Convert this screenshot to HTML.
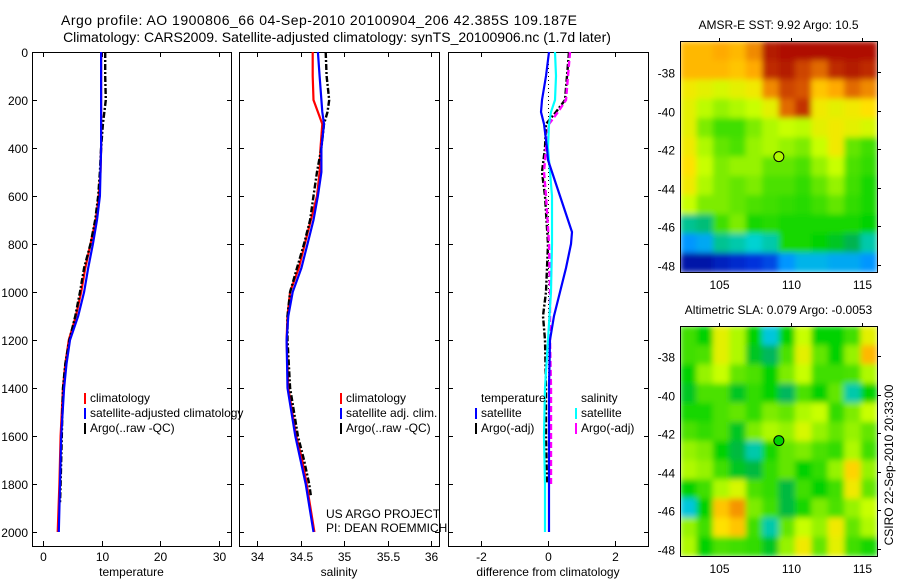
<!DOCTYPE html>
<html><head><meta charset="utf-8"><style>
html,body{margin:0;padding:0;background:#fff;}
svg{display:block;font-family:"Liberation Sans",sans-serif;}
text{fill:#000;}
</style></head><body>
<svg id="fig" width="900" height="580" viewBox="0 0 900 580">
<defs>
<filter id="smooth" x="0" y="0" width="1" height="1" filterUnits="objectBoundingBox"><feGaussianBlur stdDeviation="3" edgeMode="duplicate"/></filter>
</defs>
<text x="319" y="25" font-size="14" text-anchor="middle" textLength="516" lengthAdjust="spacing">Argo profile: AO 1900806_66 04-Sep-2010 20100904_206 42.385S 109.187E</text>
<text x="337" y="42" font-size="14" text-anchor="middle">Climatology: CARS2009. Satellite-adjusted climatology: synTS_20100906.nc (1.7d later)</text>
<g id="plots"></g>
</svg>
<script>
// ---------- data ----------
const depthTicks=[0,200,400,600,800,1000,1200,1400,1600,1800,2000];
const tempTicks=[0,10,20,30];
const salTicks=[34,34.5,35,35.5,36];
const salTickLabels=["34","34.5","35","35.5","36"];
const diffTicks=[-2,0,2];
const lonTicks=[105,110,115];
const latTicks=[-38,-40,-42,-44,-46,-48];

const tempClimDepth=[0,100,200,300,400,500,600,700,800,900,1000,1100,1200,1300,1400,1600,1800,2000];
const tempClim=[9.9,9.9,9.9,9.9,9.9,9.8,9.5,9.0,8.1,7.2,6.5,5.6,4.4,3.8,3.4,3.0,2.8,2.5];
const tempSatDepth=[0,100,200,300,400,500,600,700,800,900,1000,1100,1200,1300,1400,1600,1800,2000];
const tempSat=[9.9,9.9,9.9,9.9,9.9,9.8,9.7,9.2,8.5,7.7,7.0,6.0,4.6,4.0,3.6,3.1,2.9,2.7];
const tempArgoDepth=[0,100,200,300,400,500,600,700,800,900,1000,1100,1200,1300,1400,1600,1800,1880];
const tempArgo=[10.6,10.6,10.7,10.2,9.9,9.7,9.4,8.9,8.1,7.0,6.3,5.5,4.5,3.8,3.4,3.2,3.0,2.9];

const salDepth=[0,100,200,250,300,400,500,600,700,800,900,1000,1100,1200,1400,1600,1700,1800,2000];
const salClim=[34.64,34.64,34.65,34.70,34.75,34.73,34.72,34.69,34.62,34.55,34.48,34.38,34.35,34.34,34.36,34.45,34.52,34.57,34.66];
const salSat=[34.70,34.72,34.74,34.75,34.77,34.74,34.74,34.70,34.65,34.58,34.51,34.41,34.36,34.34,34.35,34.44,34.50,34.56,34.65];
const salArgoDepth=[0,100,200,250,300,400,500,600,700,800,900,1000,1100,1200,1400,1600,1700,1800,1850];
const salArgo=[34.79,34.80,34.83,34.81,34.77,34.74,34.69,34.65,34.61,34.54,34.46,34.38,34.35,34.35,34.38,34.47,34.54,34.60,34.62];

const dTempSatDepth=[0,100,200,250,300,400,450,500,600,700,750,800,900,1000,1100,1200,1400,1600,1800,2000];
const dTempSat=[0.03,-0.06,-0.18,-0.21,-0.12,-0.03,0,0.12,0.36,0.6,0.72,0.69,0.54,0.36,0.18,0.06,0.03,0.03,0.03,0.03];
const dSalSatDepth=[0,100,200,250,300,400,500,600,800,1000,1200,1400,1600,1800,2000];
const dSalSat=[0.21,0.24,0.21,0.09,0.03,0,0.06,0.12,0.12,0.09,0,-0.09,-0.12,-0.09,-0.09];
const dArgoDepth=[0,100,200,250,300,400,500,600,800,1000,1100,1200,1400,1600,1800];
const dTempArgo=[0.63,0.57,0.51,0.24,-0.06,-0.09,-0.18,-0.09,0,-0.06,-0.15,-0.09,-0.06,-0.06,-0.03];
const dSalArgo=[0.66,0.6,0.54,0.3,0.03,-0.06,-0.12,-0.06,0.03,0.06,0.06,0.06,0.09,0.09,0.09];

// map grids: rows north->south, cols west->east, values = colormap index 0..1
const sstGrid=[
[.80,.80,.82,.80,.85,.97,.98,.98,.98,.98,.98,.98],
[.80,.80,.80,.78,.82,.95,.97,.92,.88,.95,.97,.95],
[.72,.70,.68,.70,.72,.85,.92,.90,.78,.82,.88,.85],
[.70,.65,.62,.64,.66,.70,.88,.94,.72,.70,.72,.74],
[.70,.60,.55,.55,.60,.64,.66,.65,.70,.72,.70,.68],
[.72,.64,.58,.56,.62,.64,.62,.60,.66,.72,.58,.55],
[.74,.66,.60,.62,.62,.58,.58,.56,.62,.66,.56,.54],
[.72,.64,.60,.58,.60,.56,.56,.54,.58,.62,.55,.52],
[.66,.60,.60,.58,.56,.55,.54,.53,.55,.58,.54,.52],
[.40,.42,.55,.60,.52,.53,.52,.52,.52,.52,.52,.50],
[.25,.28,.40,.38,.35,.38,.52,.52,.50,.48,.45,.38],
[.05,.05,.08,.10,.12,.15,.25,.30,.30,.28,.28,.25]];
const slaGrid=[
[.55,.50,.70,.64,.50,.33,.50,.66,.50,.50,.55,.70],
[.55,.56,.70,.64,.48,.44,.56,.70,.58,.50,.62,.80],
[.50,.62,.66,.58,.56,.50,.60,.66,.55,.55,.56,.64],
[.48,.56,.56,.48,.54,.50,.44,.56,.50,.58,.38,.50],
[.52,.52,.56,.58,.54,.60,.58,.64,.66,.54,.60,.66],
[.56,.54,.56,.48,.60,.64,.62,.68,.62,.58,.62,.58],
[.62,.60,.50,.46,.38,.52,.58,.60,.56,.54,.64,.55],
[.64,.62,.55,.48,.46,.54,.58,.50,.54,.62,.76,.62],
[.50,.55,.64,.68,.56,.54,.46,.55,.50,.55,.72,.58],
[.33,.50,.78,.84,.60,.55,.46,.52,.60,.56,.62,.66],
[.62,.55,.74,.78,.55,.38,.58,.66,.62,.72,.58,.64],
[.64,.50,.56,.55,.54,.48,.62,.72,.58,.70,.55,.52]];
const floatLon=109.187, floatLat=-42.385;
const sstFloatVal=0.64, slaFloatVal=0.5;

// ---------- drawing ----------
const NS="http://www.w3.org/2000/svg";
const root=document.getElementById('plots');
function mk(tag,attrs,parent){const e=document.createElementNS(NS,tag);for(const k in attrs)e.setAttribute(k,attrs[k]);(parent||root).appendChild(e);return e;}
function txt(x,y,s,size,anchor,parent){const t=mk('text',{x:x,y:y,'font-size':size,'text-anchor':anchor||'middle'},parent);t.textContent=s;return t;}

const yDepth=d=>52+d*0.24;
function profilePanel(name,x0,x1,xs,ticks,labels,xlabel){
  const g=mk('g',{});
  
  
  const fr=mk('rect',{x:x0+0.5,y:52.5,width:x1-x0,height:494,fill:'none',stroke:'#000','stroke-width':1},g);
  
  
  depthTicks.forEach(d=>{const y=Math.round(yDepth(d))+0.5;
    mk('line',{x1:x0,x2:x0+5,y1:y,y2:y,stroke:'#000'},g);mk('line',{x1:x1-4,x2:x1+1,y1:y,y2:y,stroke:'#000'},g);});
  ticks.forEach((v,i)=>{const x=Math.round(xs(v))+0.5;
    mk('line',{x1:x,x2:x,y1:52,y2:57,stroke:'#000'},g);mk('line',{x1:x,x2:x,y1:541,y2:547,stroke:'#000'},g);
    const t=txt(x,561,labels[i],12,'middle',g);
    
    });
  const xl=txt((x0+x1)/2,576,xlabel,12,'middle',g);
  
  
  return g;
}
function series(g,name,depths,vals,xs,color,dash,w){
  const pts=depths.map((d,i)=>xs(vals[i]).toFixed(1)+','+yDepth(d).toFixed(1)).join(' ');
  const p=mk('polyline',{points:pts,fill:'none',stroke:color,'stroke-width':w||2.2,'stroke-dasharray':dash||'none'},g);
  
  
}
function legend(g,name,x,y,items){
  items.forEach((it,i)=>{const yy=y+i*15;
    if(it.c) mk('rect',{x:x-3,y:yy-9,width:2,height:11,fill:it.c},g);
    const t=txt(x+3,yy,it.t,12,'start',g);
    
    });
}
depthTicks.forEach(d=>{const t=txt(28,yDepth(d)+5,String(d),12,'end');
  
  });

const xT=v=>43+v*5.87;
const g1=profilePanel('temperature-panel',32,231,xT,tempTicks,tempTicks.map(String),'temperature');
series(g1,'temp-climatology-line',tempClimDepth,tempClim,xT,'#f00');
series(g1,'temp-argo-line',tempArgoDepth,tempArgo,xT,'#000','6 2 2 2',2.4);
series(g1,'temp-satellite-line',tempSatDepth,tempSat,xT,'#00f');
legend(g1,'temp-legend',87,402,[{c:'#f00',t:'climatology'},{c:'#00f',t:'satellite-adjusted climatology'},{c:'#000',t:'Argo(..raw -QC)'}]);

const xS=v=>257+(v-34)*87;
const g2=profilePanel('salinity-panel',239,439,xS,salTicks,salTickLabels,'salinity');
series(g2,'sal-climatology-line',salDepth,salClim,xS,'#f00');
series(g2,'sal-argo-line',salArgoDepth,salArgo,xS,'#000','6 2 2 2',2.4);
series(g2,'sal-satellite-line',salDepth,salSat,xS,'#00f');
legend(g2,'sal-legend',343,402,[{c:'#f00',t:'climatology'},{c:'#00f',t:'satellite adj. clim.'},{c:'#000',t:'Argo(..raw -QC)'}]);
const us=txt(326,518,'US ARGO PROJECT',12,'start',g2);
const pi=txt(326,532,'PI: DEAN ROEMMICH',12,'start',g2);

const xD=v=>548+v*33.3;
const g3=profilePanel('difference-panel',448,648,xD,diffTicks,diffTicks.map(String),'difference from climatology');
const zl=mk('line',{x1:548.5,x2:548.5,y1:52,y2:532,stroke:'#000','stroke-dasharray':'1 3'},g3);

series(g3,'diff-temp-argo-line',dArgoDepth,dTempArgo,xD,'#000','6 2 2 2',2.4);
series(g3,'diff-sal-argo-line',dArgoDepth,dSalArgo,xD,'#f0f','6 3',2.4);
series(g3,'diff-sal-satellite-line',dSalSatDepth,dSalSat,xD,'#0ff');
series(g3,'diff-temp-satellite-line',dTempSatDepth,dTempSat,xD,'#00f');
legend(g3,'diff-temp-legend',478,402,[{t:'temperature'},{c:'#00f',t:'satellite'},{c:'#000',t:'Argo(-adj)'}]);
legend(g3,'diff-sal-legend',578,402,[{t:'salinity'},{c:'#0ff',t:'satellite'},{c:'#f0f',t:'Argo(-adj)'}]);

// colormap (matches reference palette)
const cmapStops=[[0,0,0,130],[0.12,0,50,220],[0.25,0,150,255],[0.35,0,210,210],[0.45,0,180,80],[0.5,0,210,0],[0.58,100,230,0],[0.66,200,255,0],[0.74,255,225,0],[0.82,255,170,0],[0.9,215,85,0],[1,165,0,0]];
function cmap(v){v=Math.max(0,Math.min(1,v));
  for(let i=1;i<cmapStops.length;i++){const a=cmapStops[i-1],b=cmapStops[i];
    if(v<=b[0]){const t=(v-a[0])/(b[0]-a[0]);const f=k=>Math.round(a[k]+(b[k]-a[k])*t);return `rgb(${f(1)},${f(2)},${f(3)})`;}}
  return 'rgb(165,0,0)';}

function mapPanel(name,grid,x0,y0,w,h,lat38y,title,floatVal){
  const g=mk('g',{});
  
  
  const lonX=lon=>719+(lon-105)*14.3;
  const latY=lat=>lat38y+(-38-lat)*19.3;
  const rows=grid.length,cols=grid[0].length,cw=w/cols,ch=h/rows;
  const cells=mk('g',{filter:'url(#smooth)'},g);
  grid.forEach((row,i)=>row.forEach((v,j)=>{
    const r=mk('rect',{x:(x0+j*cw).toFixed(2),y:(y0+i*ch).toFixed(2),width:(cw+0.6).toFixed(2),height:(ch+0.6).toFixed(2),fill:cmap(v)},cells);
    
    }));
  const fr=mk('rect',{x:x0+0.5,y:y0+0.5,width:w,height:h,fill:'none',stroke:'#000'},g);
  
  lonTicks.forEach(l=>{const x=Math.round(lonX(l))+0.5;
    mk('line',{x1:x,x2:x,y1:y0-3,y2:y0,stroke:'#000'},g);
    const t=txt(x,y0+h+17,String(l),12,'middle',g);});
  latTicks.forEach(l=>{const y=Math.round(latY(l))+0.5;
    mk('line',{x1:x0+w,x2:x0+w+4,y1:y,y2:y,stroke:'#000'},g);
    const t=txt(x0-5,y+5,String(l),12,'end',g);});
  const tt=txt(x0+w/2,y0-12,title,12,'middle',g);
  const c=mk('circle',{cx:lonX(floatLon),cy:latY(floatLat),r:5,fill:cmap(floatVal),stroke:'#000','stroke-width':1},g);
  
}
mapPanel('sst-map',sstGrid,680,41,197,231,72,'AMSR-E SST: 9.92 Argo: 10.5',sstFloatVal);
mapPanel('sla-map',slaGrid,680,326,197,230,356,'Altimetric SLA: 0.079 Argo: -0.0053',slaFloatVal);

const cs=txt(0,0,'CSIRO 22-Sep-2010 20:33:00',12,'middle');
cs.setAttribute('transform','translate(893,465) rotate(-90)');


</script>
</body></html>
